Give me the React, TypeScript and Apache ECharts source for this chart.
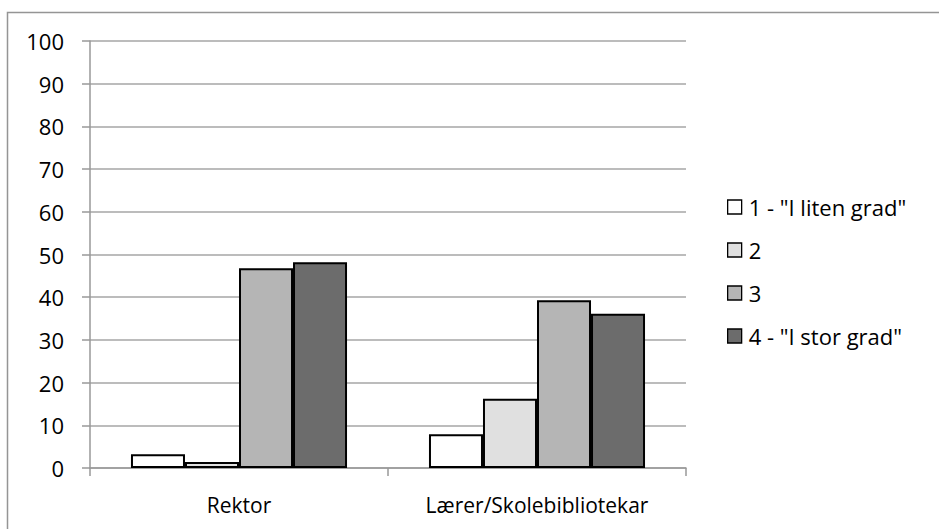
import React, { useEffect, useRef } from "react";
import * as echarts from "echarts";

const categories = ["Rektor", "Lærer/Skolebibliotekar"];
const seriesNames = ['1 - "I liten grad"', "2", "3", '4 - "I stor grad"'];
const s1 = [3.2, 7.9];
const s2 = [1.4, 16.2];
const s3 = [46.8, 39.3];
const s4 = [48.2, 36.1];
const colors = ["#ffffff", "#e0e0e0", "#b5b5b5", "#6c6c6c"];

const FONT = "'Open Sans', 'Noto Sans', sans-serif";

export default function App() {
  const ref = useRef<HTMLDivElement>(null);
  useEffect(() => {
    const chart = echarts.init(ref.current!, undefined, { renderer: "svg" });
    const data = [s1, s2, s3, s4];
    chart.setOption({
      animation: false,
      backgroundColor: "#ffffff",
      textStyle: { fontFamily: FONT },
      graphic: [
        {
          type: "rect",
          shape: { x: 7.5, y: 12.5, width: 1000, height: 600 },
          style: { fill: "none", stroke: "#959595", lineWidth: 1.5 },
          silent: true,
        },
      ],
      grid: { left: 90, top: 41, width: 596, height: 427, containLabel: false },
      legend: {
        orient: "vertical",
        left: 727,
        top: 196,
        padding: 0,
        itemGap: 21,
        itemWidth: 14,
        itemHeight: 14,
        textStyle: { fontFamily: FONT, fontSize: 22, color: "#000", padding: [0, 0, 0, 2] },
        itemStyle: { borderColor: "#000", borderWidth: 1.3 },
        data: seriesNames.map((n) => ({ name: n, icon: "rect" })),
      },
      xAxis: {
        type: "category",
        data: categories,
        axisLine: { lineStyle: { color: "#999999", width: 1.5 } },
        axisTick: { show: true, length: 8, lineStyle: { color: "#999999", width: 1.5 } },
        axisLabel: { color: "#000", fontSize: 21, fontFamily: FONT, margin: 26 },
      },
      yAxis: {
        type: "value",
        min: 0,
        max: 100,
        interval: 10,
        axisLine: { show: true, lineStyle: { color: "#999999", width: 1.5 } },
        axisTick: { show: true, length: 8, lineStyle: { color: "#999999", width: 1.5 } },
        splitLine: { lineStyle: { color: "#a6a6a6", width: 1.5 } },
        axisLabel: { color: "#000", fontSize: 22, fontFamily: FONT, margin: 26 },
      },
      series: seriesNames.map((name, i) => ({
        name,
        type: "bar",
        data: data[i],
        barGap: "0%",
        barCategoryGap: "27.5%",
        itemStyle: { color: colors[i], borderColor: "#000", borderWidth: 2 },
      })),
    });
    return () => chart.dispose();
  }, []);
  return (
    <div
      ref={ref}
      style={{ position: "absolute", left: 0, top: 0, width: 939, height: 529 }}
    />
  );
}
